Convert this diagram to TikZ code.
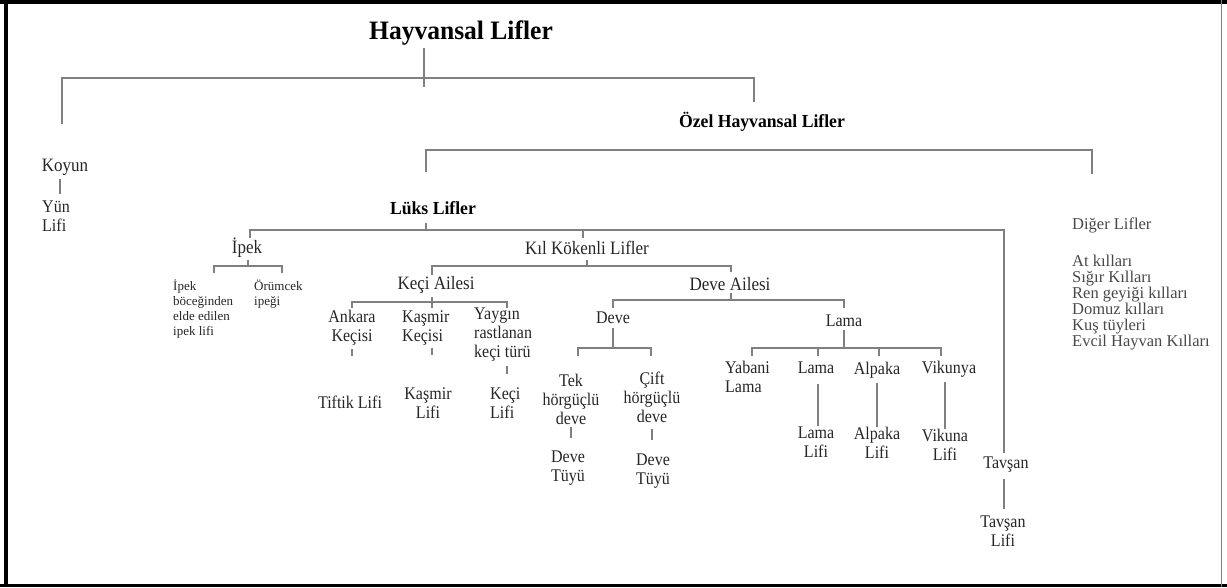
\documentclass[tikz,border=0pt]{standalone}
\usepackage{fontspec}
\setmainfont{Liberation Serif}[FakeStretch=0.9]
\newfontfamily\headfont{Liberation Serif}[FakeStretch=0.96]
\newfontfamily\plainfont{Liberation Serif}
\definecolor{hlLine}{RGB}{128,128,128}
\definecolor{hlText}{RGB}{38,38,38}
\definecolor{hlSoft}{RGB}{72,72,72}

\begin{document}
\begin{tikzpicture}[
  x=1pt,y=-1pt,
  every node/.style={inner sep=0pt,text=hlText},
  head/.style={font=\headfont\fontsize{26.6}{30}\selectfont\bfseries,text=black},
  sub/.style={font=\headfont\fontsize{18.4}{21}\selectfont\bfseries,text=black},
  item/.style={font=\fontsize{18.9}{19}\selectfont,align=center},
  leaf/.style={font=\fontsize{17.8}{19}\selectfont,align=center},
  leafL/.style={leaf,align=left,anchor=west},
  tiny/.style={font=\plainfont\fontsize{13}{15}\selectfont,align=left,anchor=west},
  rest/.style={font=\plainfont\fontsize{16.5}{16}\selectfont,align=left,anchor=west,text=hlSoft},
  link/.style={draw=hlLine,line width=1.1pt}
]
\useasboundingbox (0,0) rectangle (1227,587);
% frame
\fill[black] (0,0) rectangle (1227,3.5);
\fill[black] (0,583.5) rectangle (1227,587);
\fill[black] (3.5,0) rectangle (8,587);
\draw[hlLine,line width=1.2pt] (1221.5,0) -- (1221.5,587);

% nodes
\node[head]  (hl)      at (461,33)  {Hayvansal Lifler};
\node[item]  (koyun)   at (65,167)  {Koyun};
\node[leafL] (yun)     at (42,216)  {Yün\\Lifi};
\node[sub]   (ozel)    at (762,122) {Özel Hayvansal Lifler};
\node[sub]   (luks)    at (433,208) {Lüks Lifler};
\node[rest]  (diger)   at (1072,225){Diğer Lifler};
\node[rest]  (killar)  at (1072,303){At kılları\\Sığır Kılları\\Ren geyiği kılları\\Domuz kılları\\Kuş tüyleri\\Evcil Hayvan Kılları};
\node[item]  (ipek)    at (247,248) {İpek};
\node[item]  (kil)     at (587,248) {Kıl Kökenli Lifler};
\node[tiny]  (bocek)   at (173,309) {İpek\\böceğinden\\elde edilen\\ipek lifi};
\node[tiny]  (orumcek) at (254,294) {Örümcek\\ipeği};
\node[item]  (keci)    at (436,285) {Keçi Ailesi};
\node[item]  (deveai)  at (730,284) {Deve Ailesi};
\node[leaf]  (ankara)  at (352,328) {Ankara\\Keçisi};
\node[leafL] (kasmir)  at (402,328) {Kaşmir\\Keçisi};
\node[leafL] (yaygin)  at (474,335) {Yaygın\\rastlanan\\keçi türü};
\node[leaf]  (tiftik)  at (350,402) {Tiftik Lifi};
\node[leaf]  (kaslifi) at (428,403) {Kaşmir\\Lifi};
\node[leafL] (kecilifi) at (490,403) {Keçi\\Lifi};
\node[leaf]  (deve)    at (613,318) {Deve};
\node[leaf]  (lama)    at (844,321) {Lama};
\node[leaf]  (tek)     at (571,399) {Tek\\hörgüçlü\\deve};
\node[leaf]  (cift)    at (652,397) {Çift\\hörgüçlü\\deve};
\node[leaf]  (tuyua)   at (568,468) {Deve\\Tüyü};
\node[leaf]  (tuyub)   at (653,471) {Deve\\Tüyü};
\node[leafL] (yabani)  at (725,377) {Yabani\\Lama};
\node[leaf]  (lamab)   at (816,368) {Lama};
\node[leaf]  (alpaka)  at (877,370) {Alpaka};
\node[leaf]  (vikunya) at (949,369) {Vikunya};
\node[leaf]  (lamalifi) at (816,442) {Lama\\Lifi};
\node[leaf]  (alplifi) at (877,443) {Alpaka\\Lifi};
\node[leaf]  (viklifi) at (945,445) {Vikuna\\Lifi};
\node[leaf]  (tavsan)  at (1006,465){Tavşan};
\node[leaf]  (tavlifi) at (1003,531){Tavşan\\Lifi};

% junctions and stub ends
\coordinate (t0) at (424,48);   \coordinate (j0) at (424,78);
\coordinate (e0a) at (62,124);  \coordinate (e0b) at (754,102);
\coordinate (k1) at (60,179);   \coordinate (k2) at (60,194);
\coordinate (t1) at (426,172);  \coordinate (j1) at (426,150);
\coordinate (e1) at (1092,174);
\coordinate (t2) at (426,223);  \coordinate (j2) at (426,230);
\coordinate (e2a) at (250,238); \coordinate (e2b) at (583,238);
\coordinate (e2c) at (1004,453);
\coordinate (t3) at (248,260);  \coordinate (j3) at (248,266);
\coordinate (e3a) at (214,273); \coordinate (e3b) at (282,273);
\coordinate (t4) at (587,260);  \coordinate (j4) at (587,266);
\coordinate (e4a) at (432,275); \coordinate (e4b) at (731,272);
\coordinate (t5) at (432,297);  \coordinate (j5) at (432,302);
\coordinate (e5a) at (352,308); \coordinate (e5b) at (507,308);
\coordinate (t6) at (731,293);  \coordinate (j6) at (731,300);
\coordinate (e6a) at (613,308); \coordinate (e6b) at (844,308);
\coordinate (t7) at (613,328);  \coordinate (j7) at (613,348);
\coordinate (e7a) at (578,356); \coordinate (e7b) at (651,356);
\coordinate (t8) at (844,330);  \coordinate (j8) at (844,348);
\coordinate (e8a) at (752,356); \coordinate (e8b) at (818,356);
\coordinate (e8c) at (879,356); \coordinate (e8d) at (941,356);

% connectors
\draw[link] (t0) -- ++(0,39);
\draw[link] (e0a) |- (j0) -| (e0b);
\draw[link] (k1) -- (k2);
\draw[link] (t1) -- (j1) -| (e1);
\draw[link] (t2) -- (j2);
\draw[link] (e2a) |- (j2) -| (e2c);
\draw[link] (e2b) -- (e2b |- j2);
\draw[link] (t3) -- (j3);
\draw[link] (e3a) |- (j3) -| (e3b);
\draw[link] (t4) -- (j4);
\draw[link] (e4a) |- (j4) -| (e4b);
\draw[link] (t5) -- ++(0,11);
\draw[link] (e5a) |- (j5) -| (e5b);
\draw[link] (ankara.south) ++(0,3) -- ++(0,7);
\draw[link] (kasmir.south -| t5) ++(0,3) -- ++(0,7);
\draw[link] (yaygin.south -| e5b) ++(0,4) -- ++(0,8);
\draw[link] (t6) -- (j6);
\draw[link] (e6a) |- (j6) -| (e6b);
\draw[link] (t7) -- (j7);
\draw[link] (e7a) |- (j7) -| (e7b);
\draw[link] (tek.south) ++(0,3) -- ++(0,11);
\draw[link] (cift.south) ++(0,6) -- ++(0,11);
\draw[link] (t8) -- (j8);
\draw[link] (e8a) |- (j8) -| (e8d);
\draw[link] (e8b) -- (e8b |- j8);
\draw[link] (e8c) -- (e8c |- j8);
\draw[link] (lamab.south -| e8b) ++(0,10) -- (lamalifi.north -| e8b);
\draw[link] (alpaka.south) ++(0,5) -- (alplifi.north);
\draw[link] (vikunya.south -| viklifi) ++(0,5) -- (viklifi.north);
\draw[link] (tavsan.south -| e2c) ++(0,6) -- ++(0,30);
\end{tikzpicture}
\end{document}
